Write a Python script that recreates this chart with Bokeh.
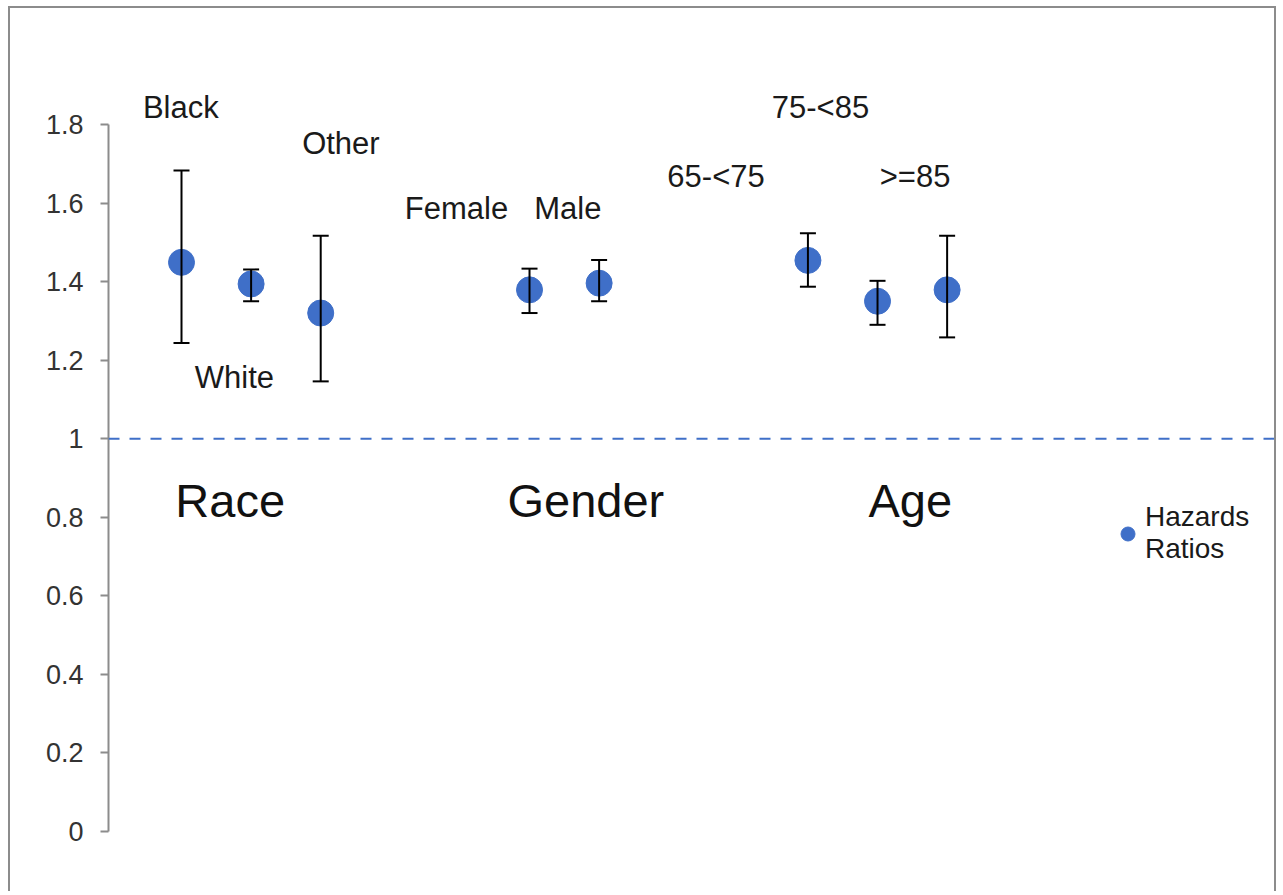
from bokeh.plotting import figure
from bokeh.models import (Range1d, FixedTicker, CustomJSTickFormatter, Span, Whisker,
                          TeeHead, ColumnDataSource, Legend, LegendItem, LinearAxis)
from bokeh.core.properties import value
from bokeh.embed import file_html
from bokeh.resources import INLINE

# ---- data ----
categories = ["Black", "White", "Other", "Female", "Male", "65-<75", "75-<85", ">=85"]
slots = [1, 2, 3, 6, 7, 10, 11, 12]
hazard_ratio = [1.449, 1.394, 1.320, 1.379, 1.396, 1.454, 1.350, 1.379]
ci_lower = [1.244, 1.350, 1.146, 1.320, 1.350, 1.387, 1.290, 1.258]
ci_upper = [1.683, 1.431, 1.517, 1.433, 1.455, 1.523, 1.402, 1.517]

# data label placement (category units, ratio units)
label_x = [0.99, 1.76, 3.29, 4.95, 6.55, 8.68, 10.18, 11.54]
label_y = [1.843, 1.156, 1.752, 1.586, 1.586, 1.667, 1.843, 1.667]

groups = ["Race", "Gender", "Age"]
group_x = [1.70, 6.81, 11.47]
group_y = [0.843, 0.843, 0.843]

y_ticks = [0, 0.2, 0.4, 0.6, 0.8, 1.0, 1.2, 1.4, 1.6, 1.8]

FONT = "Liberation Sans"
BLUE = "#3F6FC8"

src = ColumnDataSource(dict(x=slots, hr=hazard_ratio, lo=ci_lower, hi=ci_upper, cat=categories))
lab = ColumnDataSource(dict(x=label_x, y=label_y, t=categories))
grp = ColumnDataSource(dict(x=group_x, y=group_y, t=groups))

p = figure(width=1268, height=885,
           x_range=Range1d(-0.0489, 16.761), y_range=Range1d(-0.1578, 2.0953),
           output_backend="svg", toolbar_location=None,
           x_axis_location=None, y_axis_location=None,
           min_border_left=98, min_border_right=0, min_border_top=0, min_border_bottom=0)
p.outline_line_color = None
p.xgrid.visible = False
p.ygrid.visible = False
p.background_fill_color = "white"
p.border_fill_color = "white"
p.styles = {"border-top": "2px solid #8c8c8c", "border-left": "2px solid #8c8c8c",
            "border-right": "2px solid #8c8c8c", "margin-left": "8px", "margin-top": "6px"}

yax = LinearAxis(bounds=(0, 1.8))
yax.ticker = FixedTicker(ticks=y_ticks, minor_ticks=[])
yax.formatter = CustomJSTickFormatter(code="return (Math.round(tick*10)/10).toString();")
yax.axis_line_color = "#8c8c8c"
yax.axis_line_width = 2
yax.major_tick_line_color = "#8c8c8c"
yax.major_tick_line_width = 2
yax.major_tick_out = 8
yax.major_tick_in = 0
yax.minor_tick_line_color = None
yax.major_label_text_font = FONT
yax.major_label_text_font_size = "27px"
yax.major_label_text_color = "#333333"
yax.major_label_standoff = 17
p.add_layout(yax, "left")

ref = Span(location=1.0, dimension="width", line_color=BLUE, line_width=2, line_dash="11 10")
p.add_layout(ref)

wh = Whisker(base="x", upper="hi", lower="lo", source=src, line_color="black", line_width=2,
             upper_head=TeeHead(size=16, line_width=2, line_color="black"),
             lower_head=TeeHead(size=16, line_width=2, line_color="black"))
wh.level = "glyph"
p.add_layout(wh)

pts = p.scatter("x", "hr", source=src, size=26, fill_color=BLUE, line_color=BLUE, line_width=1)

p.text("x", "y", text="t", source=lab, text_font=value(FONT), text_font_size="31px",
       text_color="#1a1a1a", text_align="center", text_baseline="middle")
p.text("x", "y", text="t", source=grp, text_font=value(FONT), text_font_size="47px",
       text_color="#111111", text_align="center", text_baseline="middle")

legend = Legend(items=[LegendItem(label="Hazards\nRatios", renderers=[pts])],
                location=(1002, 328))
legend.border_line_color = None
legend.background_fill_alpha = 0
legend.label_text_font = FONT
legend.label_text_font_size = "28px"
legend.label_text_line_height = 1.1
legend.label_text_color = "#1a1a1a"
legend.glyph_width = 35
legend.glyph_height = 35
legend.label_standoff = 0
legend.padding = 0
legend.margin = 0
p.add_layout(legend)

open("out.html", "w").write(file_html(p, INLINE))
